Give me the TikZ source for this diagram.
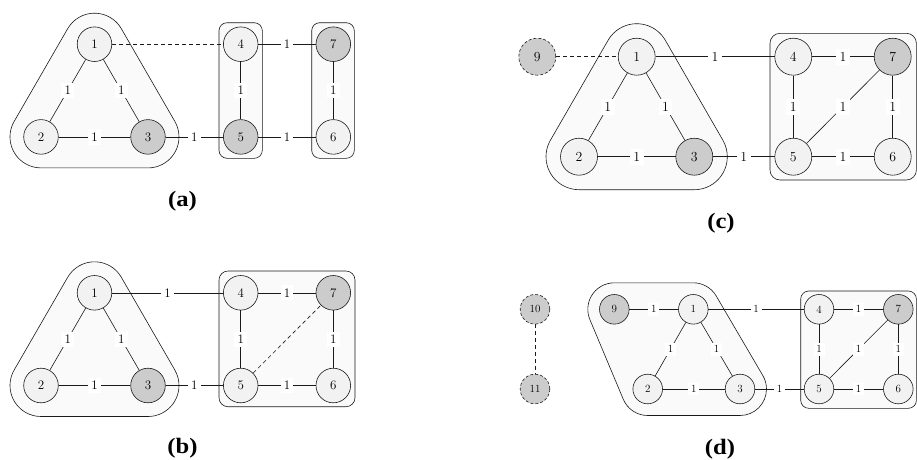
\documentclass[tikz,border=0pt]{standalone}
\usepackage{fontspec}
\newfontfamily\capfont{Liberation Serif}
\usetikzlibrary{calc}
\definecolor{nodefill}{HTML}{F2F2F2}
\definecolor{nodegray}{HTML}{CCCCCC}
\definecolor{hullfill}{HTML}{FAFAFA}
\definecolor{linec}{HTML}{1A1A1A}
\newcommand{\captext}[1]{\scalebox{1.12}[1]{#1}}
\begin{document}
\begin{tikzpicture}[x=1pt,y=1pt,line width=0.6pt,
  vbase/.style={circle,draw=linec,fill=nodefill,inner sep=0pt},
  va/.style={vbase,minimum size=34.6pt,font=\fontsize{13}{15}\selectfont},
  vc/.style={vbase,minimum size=37pt,font=\fontsize{13.8}{16}\selectfont},
  vd/.style={vbase,minimum size=29.6pt,font=\fontsize{11}{13}\selectfont},
  hot/.style={fill=nodegray},
  ghost/.style={fill=nodegray,dash pattern=on 3pt off 2pt},
  la/.style={fill=white,inner sep=3.3pt,font=\fontsize{13}{15}\selectfont},
  lc/.style={fill=white,inner sep=3.5pt,font=\fontsize{13.8}{16}\selectfont},
  ld/.style={fill=white,inner sep=2.8pt,font=\fontsize{11}{13}\selectfont},
  link/.style={draw=linec},
  dlink/.style={draw=linec,dash pattern=on 4pt off 3pt},
  hull/.style={draw=linec,fill=hullfill},
  grp/.style={draw=linec,fill=hullfill},
  captxt/.style={font=\capfont\bfseries\fontsize{22}{25}\selectfont,anchor=base,inner sep=0pt}
]
\useasboundingbox (0,0) rectangle (917,-459);

% ---------------- (a) ----------------
\coordinate (pa1) at (94.5,-44.2);
\coordinate (pa2) at (41,-136.9);
\coordinate (pa3) at (148,-136.9);
\coordinate (pa4) at (240.7,-44.2);
\coordinate (pa5) at (240.7,-136.9);
\coordinate (pa6) at (333.3,-136.9);
\coordinate (pa7) at (333.3,-44.2);
\draw[hull] ($(pa2)+(0,-31)$) -- ($(pa3)+(0,-31)$) arc[start angle=-90,end angle=30,radius=31]
  -- ($(pa1)+(30:31)$) arc[start angle=30,end angle=150,radius=31]
  -- ($(pa2)+(150:31)$) arc[start angle=150,end angle=270,radius=31] -- cycle;
\draw[grp,rounded corners=8pt] (219,-22.7) rectangle (262.3,-158.3);
\draw[grp,rounded corners=8pt] (311.7,-22.7) rectangle (354.3,-158.3);
\node[va] (a1) at (pa1) {1};
\node[va] (a2) at (pa2) {2};
\node[va,hot] (a3) at (pa3) {3};
\node[va] (a4) at (pa4) {4};
\node[va,hot] (a5) at (pa5) {5};
\node[va] (a6) at (pa6) {6};
\node[va,hot] (a7) at (pa7) {7};
\draw[link] (a1) -- node[la]{1} (a2);
\draw[link] (a1) -- node[la]{1} (a3);
\draw[link] (a2) -- node[la]{1} (a3);
\draw[link] (a3) -- node[la]{1} (a5);
\draw[link] (a4) -- node[la]{1} (a5);
\draw[link] (a4) -- node[la]{1} (a7);
\draw[link] (a5) -- node[la]{1} (a6);
\draw[link] (a7) -- node[la]{1} (a6);
\draw[dlink] (a1) -- (a4);
\node[captxt] (capa) at (182.5,-206.3) {\captext{(a)}};

% ---------------- (b) ----------------
\coordinate (pb1) at (94.5,-292.8);
\coordinate (pb2) at (41,-385.5);
\coordinate (pb3) at (148,-385.5);
\coordinate (pb4) at (240.7,-292.8);
\coordinate (pb5) at (240.7,-385.5);
\coordinate (pb6) at (333.3,-385.5);
\coordinate (pb7) at (333.3,-292.8);
\draw[hull] ($(pb2)+(0,-31)$) -- ($(pb3)+(0,-31)$) arc[start angle=-90,end angle=30,radius=31]
  -- ($(pb1)+(30:31)$) arc[start angle=30,end angle=150,radius=31]
  -- ($(pb2)+(150:31)$) arc[start angle=150,end angle=270,radius=31] -- cycle;
\draw[grp,rounded corners=9pt] (219,-271) rectangle (355,-406.7);
\node[va] (b1) at (pb1) {1};
\node[va] (b2) at (pb2) {2};
\node[va,hot] (b3) at (pb3) {3};
\node[va] (b4) at (pb4) {4};
\node[va] (b5) at (pb5) {5};
\node[va] (b6) at (pb6) {6};
\node[va,hot] (b7) at (pb7) {7};
\draw[link] (b1) -- node[la]{1} (b2);
\draw[link] (b1) -- node[la]{1} (b3);
\draw[link] (b2) -- node[la]{1} (b3);
\draw[link] (b3) -- node[la]{1} (b5);
\draw[link] (b1) -- node[la]{1} (b4);
\draw[link] (b4) -- node[la]{1} (b5);
\draw[link] (b4) -- node[la]{1} (b7);
\draw[link] (b5) -- node[la]{1} (b6);
\draw[link] (b7) -- node[la]{1} (b6);
\draw[dlink] (b5) -- (b7);
\node[captxt] (capb) at (182.5,-453.8) {\captext{(b)}};

% ---------------- (c) ----------------
\coordinate (pc9) at (537.3,-56.7);
\coordinate (pc1) at (636.7,-56.7);
\coordinate (pc2) at (579,-156.7);
\coordinate (pc3) at (694.3,-156.7);
\coordinate (pc4) at (793.3,-56.7);
\coordinate (pc5) at (793.3,-156.7);
\coordinate (pc6) at (892.7,-156.7);
\coordinate (pc7) at (892.7,-56.7);
\draw[hull] ($(pc2)+(0,-33)$) -- ($(pc3)+(0,-33)$) arc[start angle=-90,end angle=30,radius=33]
  -- ($(pc1)+(30:33)$) arc[start angle=30,end angle=150,radius=33]
  -- ($(pc2)+(150:33)$) arc[start angle=150,end angle=270,radius=33] -- cycle;
\draw[grp,rounded corners=10pt] (770,-33.3) rectangle (916.4,-180);
\node[vc,ghost] (c9) at (pc9) {9};
\node[vc] (c1) at (pc1) {1};
\node[vc] (c2) at (pc2) {2};
\node[vc,hot] (c3) at (pc3) {3};
\node[vc] (c4) at (pc4) {4};
\node[vc] (c5) at (pc5) {5};
\node[vc] (c6) at (pc6) {6};
\node[vc,hot] (c7) at (pc7) {7};
\draw[dlink] (c9) -- (c1);
\draw[link] (c1) -- node[lc]{1} (c2);
\draw[link] (c1) -- node[lc]{1} (c3);
\draw[link] (c2) -- node[lc]{1} (c3);
\draw[link] (c3) -- node[lc]{1} (c5);
\draw[link] (c1) -- node[lc]{1} (c4);
\draw[link] (c4) -- node[lc]{1} (c5);
\draw[link] (c4) -- node[lc]{1} (c7);
\draw[link] (c5) -- node[lc]{1} (c7);
\draw[link] (c5) -- node[lc]{1} (c6);
\draw[link] (c7) -- node[lc]{1} (c6);
\node[captxt] (capc) at (721,-228) {\captext{(c)}};

% ---------------- (d) ----------------
\coordinate (pd10) at (535,-309.3);
\coordinate (pd11) at (535,-389);
\coordinate (pd9) at (614.3,-309.3);
\coordinate (pd1) at (693.3,-309.3);
\coordinate (pd2) at (647.7,-389);
\coordinate (pd3) at (740,-389);
\coordinate (pd4) at (819,-309.3);
\coordinate (pd5) at (819,-389);
\coordinate (pd6) at (898.3,-389);
\coordinate (pd7) at (898.3,-309.3);
\draw[hull] ($(pd2)+(0,-26.5)$) -- ($(pd3)+(0,-26.5)$) arc[start angle=-90,end angle=30.4,radius=26.5]
  -- ($(pd1)+(30.4:26.5)$) arc[start angle=30.4,end angle=90,radius=26.5]
  -- ($(pd9)+(90:26.5)$) arc[start angle=90,end angle=202.7,radius=26.5]
  -- ($(pd2)+(202.7:26.5)$) arc[start angle=202.7,end angle=270,radius=26.5] -- cycle;
\draw[grp,rounded corners=8pt] (800.7,-291) rectangle (916.4,-408.3);
\node[vd,ghost] (d10) at (pd10) {10};
\node[vd,ghost] (d11) at (pd11) {11};
\node[vd,hot] (d9) at (pd9) {9};
\node[vd] (d1) at (pd1) {1};
\node[vd] (d2) at (pd2) {2};
\node[vd] (d3) at (pd3) {3};
\node[vd] (d4) at (pd4) {4};
\node[vd] (d5) at (pd5) {5};
\node[vd] (d6) at (pd6) {6};
\node[vd,hot] (d7) at (pd7) {7};
\draw[dlink] (d10) -- (d11);
\draw[link] (d9) -- node[ld]{1} (d1);
\draw[link] (d1) -- node[ld]{1} (d2);
\draw[link] (d1) -- node[ld]{1} (d3);
\draw[link] (d2) -- node[ld]{1} (d3);
\draw[link] (d3) -- node[ld]{1} (d5);
\draw[link] (d1) -- node[ld]{1} (d4);
\draw[link] (d4) -- node[ld]{1} (d5);
\draw[link] (d4) -- node[ld]{1} (d7);
\draw[link] (d5) -- node[ld]{1} (d7);
\draw[link] (d5) -- node[ld]{1} (d6);
\draw[link] (d7) -- node[ld]{1} (d6);
\node[captxt] (capd) at (720,-454.3) {\captext{(d)}};
\end{tikzpicture}
\end{document}
